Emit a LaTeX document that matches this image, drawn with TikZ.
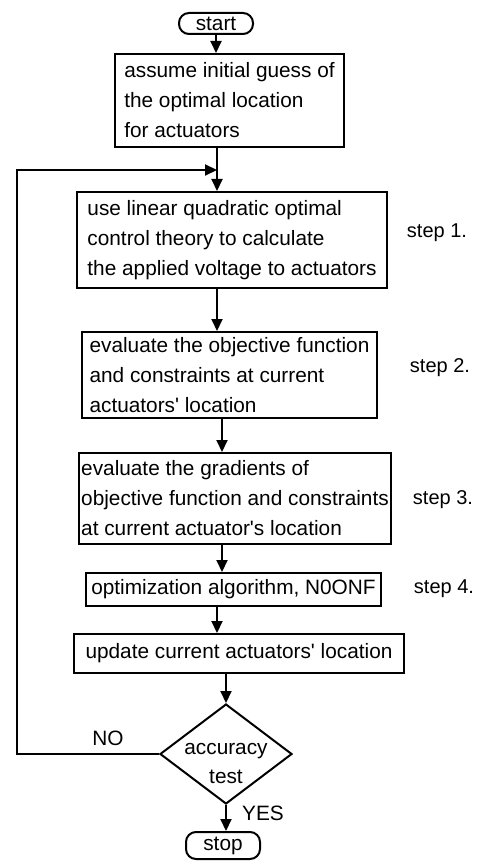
\documentclass[tikz,border=0pt]{standalone}
\usepackage{fontspec}
\setmainfont{Liberation Sans}
\newfontfamily\plainfont{Liberation Sans}
\usetikzlibrary{arrows.meta,shapes.geometric}
\newcommand{\apos}{{\plainfont'}}
\begin{document}
\begin{tikzpicture}[x=1pt,y=-1pt,
  every node/.style={font=\fontsize{20.8}{30}\selectfont},
  box/.style={draw,line width=2pt,align=left,inner sep=0pt},
  term/.style={draw,line width=2pt,rounded corners=10pt,inner sep=0pt},
  lbl/.style={inner sep=0pt},
  steplbl/.style={inner sep=0pt,font=\fontsize{20}{24}\selectfont},
  arr/.style={line width=2pt,-{Triangle[length=12pt,width=11pt]}},
  ln/.style={line width=2pt}]
\useasboundingbox (0,0) rectangle (478,861);
\fill[white] (0,0) rectangle (478,861);
% column coordinates
\coordinate (xa) at (217,0);
\coordinate (xb) at (222,0);
\coordinate (lx) at (17,0);
\coordinate (jn) at (217,170);
% nodes
\node[term,minimum width=74,minimum height=21] (st) at (216,23.5) {start};
\node[box,minimum width=229,minimum height=93] (b1) at (229.5,100.5)
  {assume initial guess of\\the optimal location\\for actuators};
\node[box,minimum width=310,minimum height=96] (b2) at (232,240)
  {use linear quadratic optimal\\control theory to calculate\\the applied voltage to actuators};
\node[box,minimum width=295,minimum height=86] (b3) at (229.5,375)
  {evaluate the objective function\\and constraints at current\\actuators\apos{} location};
\node[box,minimum width=312,minimum height=91] (b4) at (235,498.5)
  {evaluate the gradients of\\objective function and constraints\\at current actuator\apos{}s location};
\node[box,minimum width=295,minimum height=33] (b5) at (233.5,589.5)
  {optimization algorithm, N0ONF};
\node[box,minimum width=330,minimum height=39] (b6) at (239,653.5)
  {update current actuators\apos{} location};
\node[draw,diamond,line width=2pt,minimum width=132,minimum height=100,inner sep=0pt] (d) at (226,754) {};
\node[lbl,align=center,font=\fontsize{20.8}{29}\selectfont] (dt) at (226,763) {accuracy\\test};
\node[term,minimum width=74,minimum height=27] (sp) at (223,845.5) {stop};
% step labels
\node[steplbl] (s1) at (437,233) {step 1.};
\node[steplbl] (s2) at (440,368) {step 2.};
\node[steplbl] (s3) at (443,500) {step 3.};
\node[steplbl] (s4) at (444,589) {step 4.};
% branch labels
\node[lbl] (no) at (108,738) {NO};
\node[lbl] (yes) at (263,813) {YES};
% connectors
\draw[arr] (st.south) -- (st.south |- b1.north);
\draw[arr] (b1.south -| xa) -- (b2.north -| xa);
\draw[arr] (b2.south -| xa) -- (b3.north -| xa);
\draw[arr] (b3.south -| xb) -- (b4.north -| xb);
\draw[arr] (b4.south -| xb) -- (b5.north -| xb);
\draw[arr] (b5.south -| xa) -- (b6.north -| xa);
\draw[arr] (b6.south -| d.north) -- (d.north);
\draw[arr] (d.south) -- (d.south |- sp.north);
\draw[arr] (d.west) -| (lx |- jn) -- (jn);
\end{tikzpicture}
\end{document}
